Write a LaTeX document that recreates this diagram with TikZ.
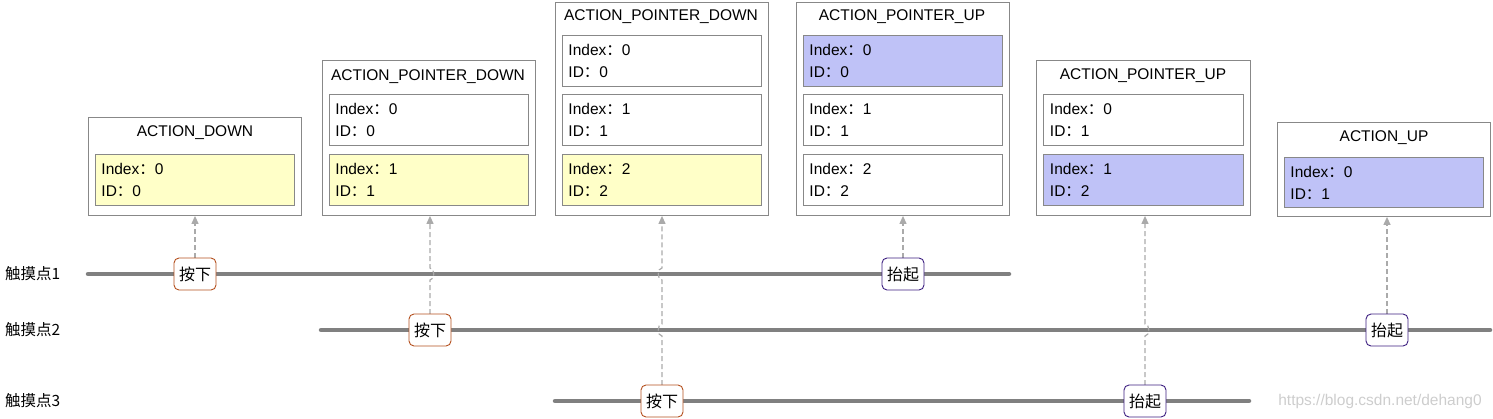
\documentclass[tikz,border=0pt]{standalone}
\usepackage{fontspec}
\setmainfont{Liberation Sans}
\newfontfamily\cjk{Noto Sans CJK SC}
\usetikzlibrary{arrows.meta}
\definecolor{boxgray}{RGB}{136,136,136}
\definecolor{linegray}{RGB}{128,128,128}
\definecolor{dashgray}{RGB}{170,170,170}
\definecolor{yel}{RGB}{255,255,200}
\definecolor{blu}{RGB}{191,194,247}
\definecolor{downc}{RGB}{180,80,30}
\definecolor{upc}{RGB}{60,30,128}
\definecolor{wm}{RGB}{205,205,205}
\newcommand\cc{{\cjk ：}}
\tikzset{
  x=1pt, y=-1pt,
  txt/.style={font=\fontsize{15.5}{22}\selectfont},
  outerbox/.style={draw=boxgray, line width=0.9pt, anchor=north west, inner sep=0pt, minimum width=213pt},
  title/.style={txt, inner sep=0pt, yshift=-2pt},
  slot/.style={draw=boxgray, line width=0.9pt, anchor=north west, minimum width=199pt, minimum height=51pt,
     text width=187pt, inner sep=6pt, align=left, txt},
  yslot/.style={slot, fill=yel},
  bslot/.style={slot, fill=blu},
  track/.style={draw=linegray, line width=4.5pt, line cap=round},
  ev/.style={draw=#1, fill=white, line width=0.9pt, rounded corners=5pt, minimum width=42pt, minimum height=32pt,
     inner sep=0pt, font=\cjk\fontsize{16}{18}\selectfont},
  conn/.style={draw=dashgray, line width=1.2pt, dash pattern=on 5pt off 3pt, -{Triangle[length=8pt,width=7pt,fill=dashgray]}},
  lab/.style={font=\cjk\fontsize{15.5}{18}\selectfont, anchor=west, inner sep=0pt}
}
\begin{document}
\begin{tikzpicture}
\useasboundingbox (0,0) rectangle (1493,418);
% outer boxes
\node[outerbox, minimum height=98pt] (b1) at (88,117) {};
\node[outerbox, minimum height=155pt] (b2) at (322,60) {};
\node[outerbox, minimum height=213pt] (b3) at (555,2) {};
\node[outerbox, minimum height=213pt] (b4) at (796,2) {};
\node[outerbox, minimum height=155pt, minimum width=214pt] (b5) at (1036,60) {};
\node[outerbox, minimum height=94pt, minimum width=213pt] (b6) at (1277,122) {};
% titles
\node[title] (t1) at (195,131) {ACTION\_DOWN};
\node[title] (t2) at (428,75) {ACTION\_POINTER\_DOWN};
\node[title] (t3) at (661,15) {ACTION\_POINTER\_DOWN};
\node[title] (t4) at (902,15) {ACTION\_POINTER\_UP};
\node[title] (t5) at (1143,74) {ACTION\_POINTER\_UP};
\node[title] (t6) at (1384,136) {ACTION\_UP};
% slots
\node[yslot] (s11) at (95,154) {Index\cc 0\\ID\cc 0};
\node[slot]  (s21) at (329,94) {Index\cc 0\\ID\cc 0};
\node[yslot] (s22) at (329,154) {Index\cc 1\\ID\cc 1};
\node[slot]  (s31) at (562,35) {Index\cc 0\\ID\cc 0};
\node[slot]  (s32) at (562,94) {Index\cc 1\\ID\cc 1};
\node[yslot] (s33) at (562,154) {Index\cc 2\\ID\cc 2};
\node[bslot] (s41) at (803,35) {Index\cc 0\\ID\cc 0};
\node[slot]  (s42) at (803,94) {Index\cc 1\\ID\cc 1};
\node[slot]  (s43) at (803,154) {Index\cc 2\\ID\cc 2};
\node[slot, minimum width=200pt]  (s51) at (1043,94) {Index\cc 0\\ID\cc 1};
\node[bslot, minimum width=200pt] (s52) at (1043,154) {Index\cc 1\\ID\cc 2};
\node[bslot, minimum height=50pt] (s61) at (1284,157) {Index\cc 0\\ID\cc 1};
% track labels
\node[lab] (l1) at (5,274) {触摸点1};
\node[lab] (l2) at (5,330) {触摸点2};
\node[lab] (l3) at (5,401) {触摸点3};
% tracks
\coordinate (p1a) at (88,274); \coordinate (p1b) at (1009,274);
\coordinate (p2a) at (321,330); \coordinate (p2b) at (1490,330);
\coordinate (p3a) at (555,401); \coordinate (p3b) at (1249,401);
\draw[track] (p1a) -- (p1b);
\draw[track] (p2a) -- (p2b);
\draw[track] (p3a) -- (p3b);
% connectors
\draw[conn] (195,258) -- (b1.south -| 195,0);
\draw[conn] (430,314) -- (430,280) .. controls (435,280) and (435,268) .. (430,268) -- (b2.south -| 430,0);
\draw[conn] (662,385) -- (662,336) .. controls (657,336) and (657,324) .. (662,324) -- (662,280) .. controls (657,280) and (657,268) .. (662,268) -- (b3.south -| 662,0);
\draw[conn] (903,258) -- (b4.south -| 903,0);
\draw[conn] (1145,385) -- (1145,336) .. controls (1150,336) and (1150,324) .. (1145,324) -- (b5.south -| 1145,0);
\draw[conn] (1387,314) -- (b6.south -| 1387,0);
% events
\node[ev=downc] (e1) at (195,274) {按下};
\node[ev=downc] (e2) at (430,330) {按下};
\node[ev=downc] (e3) at (662,401) {按下};
\node[ev=upc] (e4) at (903,274) {抬起};
\node[ev=upc] (e5) at (1145,401) {抬起};
\node[ev=upc] (e6) at (1387,330) {抬起};
% watermark
\node[font=\fontsize{15.5}{16}\selectfont, text=wm, inner sep=0pt] (wmk) at (1380,401) {https://blog.csdn.net/dehang0};
\end{tikzpicture}
\end{document}
